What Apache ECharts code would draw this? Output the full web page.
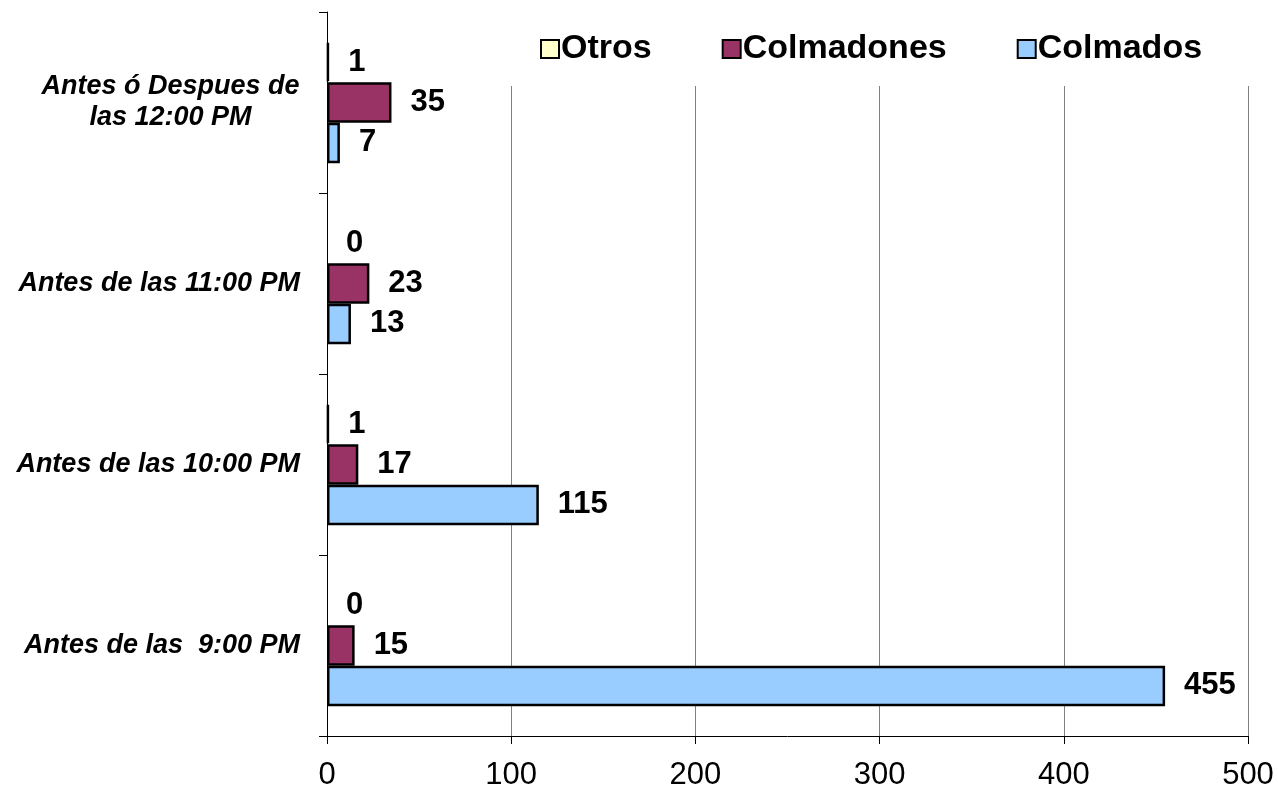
<!DOCTYPE html>
<html><head><meta charset="utf-8">
<script src="https://cdn.jsdelivr.net/npm/echarts@6/dist/echarts.min.js"></script>
<style>html,body{margin:0;padding:0;background:#fff}#c{width:1278px;height:796px}</style>
</head><body><div id="c"></div>
<script>
var categories = ['Antes de las  9:00 PM', 'Antes de las 10:00 PM', 'Antes de las 11:00 PM', 'Antes ó Despues de\nlas 12:00 PM'];
var colmados = [455, 115, 13, 7];
var colmadones = [15, 17, 23, 35];
var otros = [0, 1, 0, 1];
var xTicks = [0, 100, 200, 300, 400, 500];

var FONT = '"Liberation Sans", Arial, sans-serif';
var CAT_SIZE = 27;
var ctx = document.createElement('canvas').getContext('2d');
ctx.font = 'italic bold ' + CAT_SIZE + 'px ' + FONT;
function catFormatter(v) {
  var lines = v.split('\n');
  if (lines.length === 1) return '{t|' + v + '}';
  var w = 0;
  lines.forEach(function (l) { w = Math.max(w, ctx.measureText(l).width); });
  catRich.c.width = Math.ceil(w);
  return lines.map(function (l) { return '{c|' + l + '}'; }).join('\n');
}
var catBase = { fontSize: CAT_SIZE, fontWeight: 'bold', fontStyle: 'italic', color: '#000', fontFamily: FONT, lineHeight: 31 };
var catRich = { t: Object.assign({}, catBase), c: Object.assign({ align: 'center' }, catBase) };

var chart = echarts.init(document.getElementById('c'));
function lbl() {
  return { show: true, position: 'right', distance: 19, color: '#000', fontWeight: 'bold', fontSize: 31, fontFamily: FONT };
}
function items(arr) {
  return arr.map(function (v) { return v === 0 ? { value: v, itemStyle: { borderWidth: 0 } } : v; });
}
// compute formatter widths before setting options
categories.forEach(catFormatter);
chart.setOption({
  animation: false,
  textStyle: { fontFamily: FONT },
  grid: { left: 327, right: 30, top: 12, bottom: 60, containLabel: false },
  legend: {
    data: ['Otros', 'Colmadones', 'Colmados'],
    left: 505, top: 12,
    padding: [20, 55, 20, 35],
    backgroundColor: '#fff',
    itemWidth: 18, itemHeight: 18, itemGap: 70,
    icon: 'rect',
    textStyle: { fontSize: 34, fontWeight: 'bold', color: '#000', fontFamily: FONT, padding: [0, 0, 0, -3] }
  },
  xAxis: {
    type: 'value', min: xTicks[0], max: xTicks[xTicks.length - 1], interval: 100,
    axisLine: { show: true, lineStyle: { color: '#000', width: 1 } },
    axisTick: { show: true, length: 8, lineStyle: { color: '#000' } },
    axisLabel: { fontSize: 31, color: '#000', margin: 24, fontFamily: FONT },
    splitLine: { show: true, lineStyle: { color: '#808080', width: 1 } }
  },
  yAxis: {
    type: 'category', data: categories,
    axisLine: { show: true, lineStyle: { color: '#000', width: 1 } },
    axisTick: { show: true, length: 8, lineStyle: { color: '#000' } },
    axisLabel: { margin: 27, align: 'right', formatter: catFormatter, rich: catRich }
  },
  series: [
    { name: 'Otros', type: 'bar', data: items(otros), barGap: '0%', barCategoryGap: '33%',
      itemStyle: { color: '#FFFFCC', borderColor: '#000', borderWidth: 2.5 }, label: lbl() },
    { name: 'Colmadones', type: 'bar', data: items(colmadones), barGap: '0%', barCategoryGap: '33%',
      itemStyle: { color: '#993366', borderColor: '#000', borderWidth: 2.5 }, label: lbl() },
    { name: 'Colmados', type: 'bar', data: items(colmados), barGap: '0%', barCategoryGap: '33%',
      itemStyle: { color: '#99CCFF', borderColor: '#000', borderWidth: 2.5 }, label: lbl() }
  ]
});
</script></body></html>
